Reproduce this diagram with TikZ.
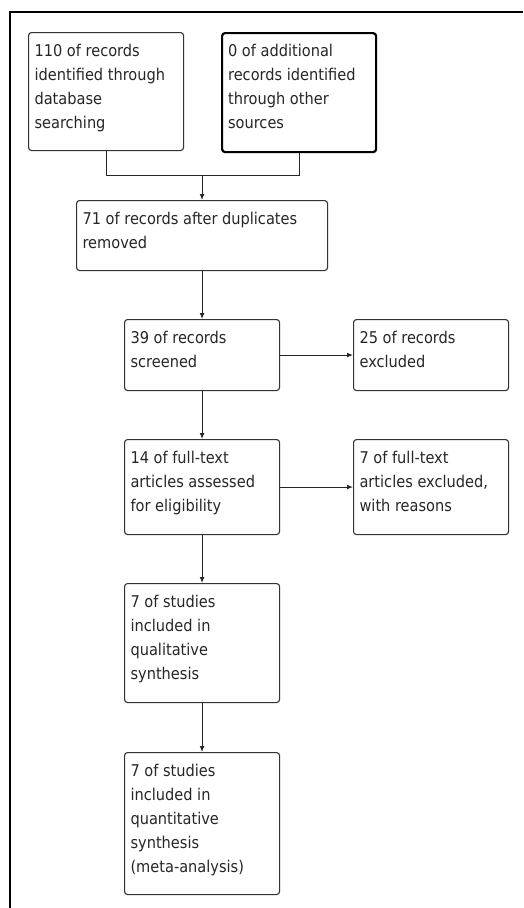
\documentclass[tikz,border=0pt]{standalone}
\usepackage{fontspec}
\setmainfont{DejaVu Sans Condensed}
\usetikzlibrary{arrows.meta}
\newcommand\boxtext[3]{\parbox[c][\dimexpr #2pt-14pt\relax][t]{\dimexpr #1pt-12pt\relax}{\raggedright\strut #3}}
\tikzset{
  box/.style={draw=black!80, line width=1.1pt, rounded corners=3pt, inner xsep=6pt, inner ysep=7pt, anchor=north west, font=\fontsize{16.2}{24}\selectfont, text=black!85},
  thickbox/.style={box, draw=black, line width=2.2pt},
  conn/.style={draw=black!85, line width=1.1pt},
  arr/.style={conn, -{Latex[length=6pt,width=5pt]}},
}
\begin{document}
\begin{tikzpicture}[x=1pt,y=-1pt]
\useasboundingbox (0,0) rectangle (523,908);
\draw[line width=1.4pt] (10,908) -- (10,12) -- (523,12);
\node[box] (A) at (28,32) {\boxtext{155}{118}{110 of records\\identified through\\database\\searching}};
\node[thickbox] (B) at (221,32) {\boxtext{154}{119}{0 of additional\\records identified\\through other\\sources}};
\node[box] (C) at (76,200) {\boxtext{251}{70}{71 of records after duplicates\\removed}};
\node[box] (D) at (124,319) {\boxtext{155}{71}{39 of records\\screened}};
\node[box] (E) at (353,319) {\boxtext{155}{71}{25 of records\\excluded}};
\node[box] (F) at (124,439) {\boxtext{155}{95}{14 of full-text\\articles assessed\\for eligibility}};
\node[box] (G) at (353,439) {\boxtext{155}{95}{7 of full-text\\articles excluded,\\with reasons}};
\node[box] (H) at (124,583) {\boxtext{155}{119}{7 of studies\\included in\\qualitative\\synthesis}};
\node[box] (I) at (124,752) {\boxtext{155}{142}{7 of studies\\included in\\quantitative\\synthesis\\(meta-analysis)}};
\coordinate (m) at (C.north |- 0,175.5);
\draw[conn] (A.south) |- (m) -| (B.south);
\draw[arr] (m) -- (C.north);
\draw[arr] (C.south) -- (D.north);
\draw[arr] (D.east) -- (E.west);
\draw[arr] (D.south) -- (F.north);
\draw[arr] (F.east) -- (G.west);
\draw[arr] (F.south) -- (H.north);
\draw[arr] (H.south) -- (I.north);
\end{tikzpicture}
\end{document}
